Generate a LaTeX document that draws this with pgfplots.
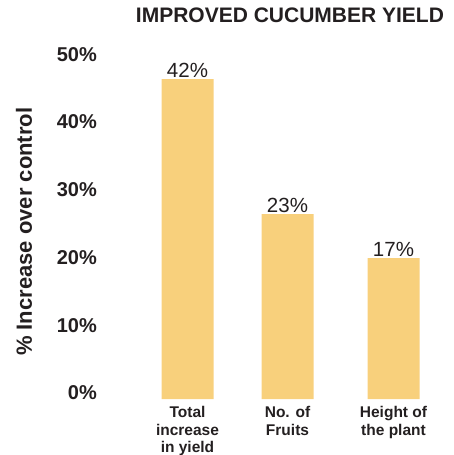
\documentclass[border=0pt]{standalone}
\usepackage{fontspec}
\setmainfont{Liberation Sans}
\usepackage{pgfplots}
\pgfplotsset{compat=1.18}
\definecolor{barfill}{HTML}{F8D07C}
\definecolor{txt}{HTML}{231F20}
\begin{document}
\begin{tikzpicture}
\path[use as bounding box] (0,0) rectangle (453pt,-455pt);
\begin{axis}[
    at={(130pt,-399pt)}, anchor=south west,
    scale only axis,
    width=310pt, height=338.75pt,
    xmin=-0.575, xmax=2.525,
    ymin=0, ymax=50,
    ybar, bar width=52pt,
    axis line style={draw=none},
    tick style={draw=none},
    ytick={0,10,20,30,40,50},
    yticklabels={0\%,10\%,20\%,30\%,40\%,50\%},
    yticklabel style={font=\fontsize{20}{22}\selectfont\bfseries, text=txt,
        anchor=east, inner sep=0pt, xshift=-33pt, yshift=6pt},
    xtick={0,1,2.06},
    xticklabels={Total\\increase\\in yield, No. of\\Fruits, Height of\\the plant},
    xticklabel style={font=\fontsize{15.5}{17.3}\selectfont\bfseries, text=txt,
        align=center, anchor=north, inner sep=0pt, yshift=-3pt},
    ylabel={\% Increase over control},
    ylabel style={font=\fontsize{22}{24}\selectfont\bfseries, text=txt,
        at={(axis description cs:-0.342,0.494)}, anchor=center},
    title={IMPROVED CUCUMBER YIELD},
    title style={font=\fontsize{21}{23}\selectfont\bfseries, text=txt,
        at={(axis description cs:0.516,1.114)}, anchor=center, inner sep=0pt},
    point meta=explicit symbolic,
    nodes near coords,
    every node near coord/.append style={font=\fontsize{20.5}{22}\selectfont,
        text=txt, anchor=south, inner sep=1pt},
]
\addplot[fill=barfill, draw=none] coordinates {
    (0,47.2) [42\%]
    (1,27.3) [23\%]
    (2.06,20.8) [17\%]
};
\end{axis}
\end{tikzpicture}
\end{document}
